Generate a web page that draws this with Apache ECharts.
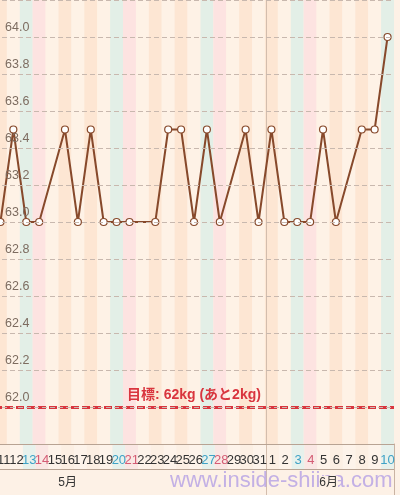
<!DOCTYPE html>
<html><head><meta charset="utf-8">
<script src="https://cdn.jsdelivr.net/npm/echarts@6/dist/echarts.min.js"></script>
<style>html,body{margin:0;padding:0;background:#fdf1e6;overflow:hidden}#c{position:absolute;left:-6px;top:0;width:406px;height:495px}</style>
</head><body><div id="c"></div>
<script>
const dayLabels = ['11','12','13','14','15','16','17','18','19','20','21','22','23','24','25','26','27','28','29','30','31','1','2','3','4','5','6','7','8','9','10'];
const weights = [63.0,63.5,63.0,63.0,null,63.5,63.0,63.5,63.0,63.0,63.0,null,63.0,63.5,63.5,63.0,63.5,63.0,null,63.5,63.0,
                 63.5,63.0,63.0,63.0,63.5,63.0,null,63.5,63.5,64.0];
const year = 2017;
const startMonth = 5;
const monthLabels = ['5月','6月'];
const monthLabelDays = ['16','5'];
const targetWeight = 62;
const targetLabel = '目標: 62kg (あと2kg)';
const yMin = 61.8, yMax = 64.2, yStep = 0.2;
const monthStartDay = '1';
const watermark = 'www.inside-shiina.com';

// derive weekday kinds
let m = startMonth, prev = 0;
const kinds = dayLabels.map(d => {
  const n = +d; if (n < prev) m++; prev = n;
  const dow = new Date(year, m - 1, n).getDay();
  return dow === 6 ? 'sat' : dow === 0 ? 'sun' : (dow % 2 === 0 ? 'peach' : 'light');
});
const stripeColors = {peach:'#fde6d3', light:'#fef2e6', sat:'#e3efe7', sun:'#fde3e1'};
const rowColors = {peach:'#fcefe3', light:'#fdf3ea', sat:'#e7f1ec', sun:'#fae7e4'};
const labelColors = {peach:'#333', light:'#333', sat:'#3fa2c6', sun:'#d45c74'};

const FONT = '"Liberation Sans", "Noto Sans CJK JP", sans-serif';
const chart = echarts.init(document.getElementById('c'));
const brown = '#87492b';

chart.setOption({
  animation: false,
  backgroundColor: '#fdf1e6',
  textStyle: {fontFamily: FONT},
  grid: [
    {left: 0, right: 6, top: -2.5, height: 446.5},
    {left: 0, right: 6, top: 444, height: 51}
  ],
  xAxis: [
    {gridIndex: 0, type: 'category', data: dayLabels, z: 10,
     axisLine: {show: true, lineStyle: {color: '#b8a393', width: 1}},
     axisTick: {show: false}, axisLabel: {show: false}, splitLine: {show: false}},
    {gridIndex: 1, type: 'category', data: dayLabels, position: 'top', z: 10,
     axisLine: {show: false}, axisTick: {show: false}, splitLine: {show: false},
     axisLabel: {show: true, inside: true, interval: 0, margin: 16, verticalAlign: 'middle',
       fontSize: 13, fontFamily: FONT,
       formatter: (v) => '{' + kinds[dayLabels.indexOf(v)] + '|' + v + '}',
       rich: {
         peach: {color: labelColors.peach, fontSize: 13, fontFamily: FONT},
         light: {color: labelColors.light, fontSize: 13, fontFamily: FONT},
         sat: {color: labelColors.sat, fontSize: 13, fontFamily: FONT},
         sun: {color: labelColors.sun, fontSize: 13, fontFamily: FONT}
       }}},
    {gridIndex: 1, type: 'category', data: dayLabels, position: 'bottom', z: 20,
     axisLine: {show: false}, axisTick: {show: false}, splitLine: {show: false},
     axisLabel: {show: true, inside: true, interval: 0, margin: 12, verticalAlign: 'middle',
       color: '#333', fontSize: 12, fontFamily: FONT,
       formatter: (v) => { const k = monthLabelDays.indexOf(v); return k === 0 ? '{m|' + monthLabels[0] + '}' : k === 1 ? '{sp|}{m2|' + monthLabels[1] + '}' : ''; },
       rich: {
         m: {color: '#333', fontSize: 12, fontFamily: FONT},
         sp: {width: 10},
         m2: {color: '#333', fontSize: 12, fontFamily: FONT, backgroundColor: '#fdf1e6', padding: [1, 0, 1, 0]}
       },
       padding: [0, 0, 0, 0]}}
  ],
  yAxis: [
    {gridIndex: 0, type: 'value', min: yMin, max: yMax, interval: yStep, z: 10,
     axisLine: {show: false}, axisTick: {show: false},
     showMinLabel: false, showMaxLabel: false,
     axisLabel: {inside: true, align: 'left', verticalAlign: 'bottom', margin: 11, padding: [0, 0, 3, 0],
       color: '#7d6c60', fontSize: 12.5, fontFamily: FONT,
       formatter: v => (v < yMin + 0.01 || v > yMax - 0.01) ? '' : v.toFixed(1)},
     splitLine: {show: true, lineStyle: {color: '#c8b8ae', type: [5, 3], width: 1}}},
    {gridIndex: 1, type: 'value', min: 0, max: 51, inverse: true, position: 'right',
     axisLine: {show: true, lineStyle: {color: '#c9b3a3'}}, axisTick: {show: false},
     axisLabel: {show: false}, splitLine: {show: false}}
  ],
  series: [
    {type: 'bar', xAxisIndex: 0, yAxisIndex: 0, z: -1, silent: true, barWidth: '100%', barGap: '-100%',
     data: dayLabels.map((d, i) => ({value: yMax, itemStyle: {color: stripeColors[kinds[i]]}}))},
    {type: 'bar', xAxisIndex: 1, yAxisIndex: 1, z: -1, silent: true, barWidth: '100%',
     data: dayLabels.map((d, i) => ({value: 25, itemStyle: {color: rowColors[kinds[i]]}})),
     markLine: {silent: true, symbol: ['none', 'none'], label: {show: false},
       lineStyle: {color: '#b8a393', width: 1, type: 'solid'}, data: [{yAxis: 25}]}},
    {type: 'line', xAxisIndex: 0, yAxisIndex: 0, data: weights, connectNulls: true, z: 5,
     symbol: 'circle', symbolSize: 7, showAllSymbol: true,
     itemStyle: {color: '#fff', borderColor: brown, borderWidth: 1.2},
     lineStyle: {color: brown, width: 2},
     markLine: {silent: true, symbol: ['none', 'none'],
       lineStyle: {color: '#d9353e', width: 3, type: [8, 3]},
       label: {show: true, position: 'middle', formatter: targetLabel, color: '#d9353e',
         fontWeight: 'bold', fontSize: 14, fontFamily: FONT, distance: 5},
       data: [{yAxis: targetWeight}]}}
  ]
});

// month divider and watermark, positioned from the axis scale
const idx = dayLabels.indexOf(monthStartDay);
const xa = chart.convertToPixel({xAxisIndex: 0}, dayLabels[idx - 1]);
const xb = chart.convertToPixel({xAxisIndex: 0}, dayLabels[idx]);
const xDiv = Math.round((xa + xb) / 2) + 1.5;
chart.setOption({
  graphic: [
    {type: 'line', silent: true, z: 3, shape: {x1: xDiv, y1: 0, x2: xDiv, y2: 495},
     style: {stroke: '#d3bdad', lineWidth: 1}},
    {type: 'text', left: 176, top: 470, z: 15, silent: true,
     style: {text: watermark, fontSize: 22, fontFamily: FONT, fill: 'rgba(170,148,228,0.7)'}}
  ]
});
</script></body></html>
